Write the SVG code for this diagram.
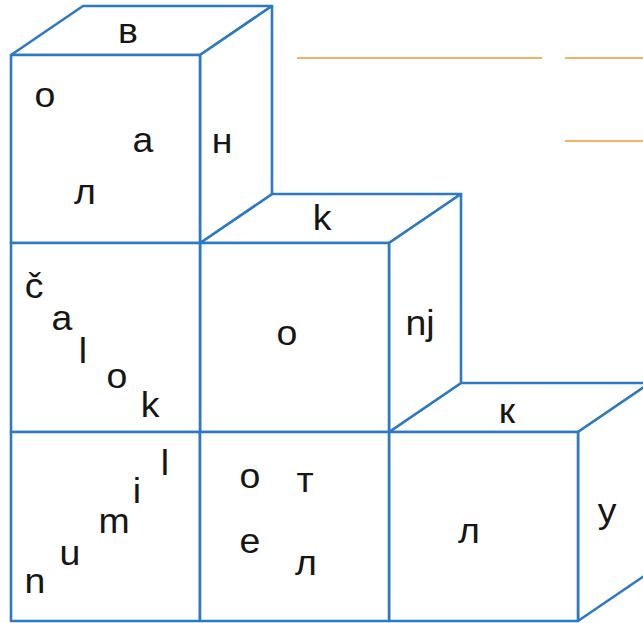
<svg xmlns="http://www.w3.org/2000/svg" width="643" height="623" viewBox="0 0 643 623">
<style>
.f{fill:#fff;stroke:#2d79c4;stroke-width:2.6;stroke-linejoin:round}
.t{font-family:"Liberation Sans",Arial,sans-serif;font-size:35px;fill:#161616;text-anchor:middle}
.o{stroke:#f2b163;stroke-width:2}
</style>
<rect width="643" height="623" fill="#fff"/>
<g id="lines">
<line class="o" x1="297" y1="58" x2="542" y2="58"/>
<line class="o" x1="565" y1="58" x2="643" y2="58"/>
<line class="o" x1="565" y1="141" x2="643" y2="141"/>
</g>
<g id="cube-c2r2">
<polygon class="f" points="389,432 461,383 650,383 578,432"/>
<polygon class="f" points="578,432 650,383 650,572 578,621"/>
<rect class="f" x="389" y="432" width="189" height="189"/>
<text class="t" transform="matrix(1.07,0,0,1,507,423)">к</text>
<text class="t" transform="matrix(1.07,0,0,1,469,543)">л</text>
<text class="t" transform="matrix(1.07,0,0,1,607,523)">у</text>
</g>
<g id="cube-c1r1">
<polygon class="f" points="200,243 272,194 461,194 389,243"/>
<polygon class="f" points="389,243 461,194 461,383 389,432"/>
<rect class="f" x="200" y="243" width="189" height="189"/>
<text class="t" transform="matrix(1.07,0,0,1,322,230)">k</text>
<text class="t" transform="matrix(1.07,0,0,1,287,345)">o</text>
<text class="t" transform="matrix(1.07,0,0,1,420,335)">nj</text>
</g>
<g id="cube-c0r0">
<polygon class="f" points="11,55 83,6 272,6 200,55"/>
<polygon class="f" points="200,55 272,6 272,194 200,243"/>
<rect class="f" x="11" y="55" width="189" height="188"/>
<text class="t" transform="matrix(1.07,0,0,1,128,43)">в</text>
<text class="t" transform="matrix(1.07,0,0,1,45,107)">о</text>
<text class="t" transform="matrix(1.07,0,0,1,143,152)">а</text>
<text class="t" transform="matrix(1.07,0,0,1,85,204)">л</text>
<text class="t" transform="matrix(1.07,0,0,1,222,153)">н</text>
</g>
<g id="cube-c0r1">
<rect class="f" x="11" y="243" width="189" height="189"/>
<text class="t" transform="matrix(1.07,0,0,1,34,298)">č</text>
<text class="t" transform="matrix(1.07,0,0,1,62,330)">a</text>
<text class="t" transform="matrix(1.07,0,0,1,83,363)">l</text>
<text class="t" transform="matrix(1.07,0,0,1,117,388)">o</text>
<text class="t" transform="matrix(1.07,0,0,1,150,417)">k</text>
</g>
<g id="cube-c0r2">
<rect class="f" x="11" y="432" width="189" height="189"/>
<text class="t" transform="matrix(1.07,0,0,1,35,593)">n</text>
<text class="t" transform="matrix(1.07,0,0,1,70,565)">u</text>
<text class="t" transform="matrix(1.07,0,0,1,114,533)">m</text>
<text class="t" transform="matrix(1.07,0,0,1,137,503)">i</text>
<text class="t" transform="matrix(1.07,0,0,1,165,475)">l</text>
</g>
<g id="cube-c1r2">
<rect class="f" x="200" y="432" width="189" height="189"/>
<text class="t" transform="matrix(1.07,0,0,1,250,488)">о</text>
<text class="t" transform="matrix(1.07,0,0,1,305,492)">т</text>
<text class="t" transform="matrix(1.07,0,0,1,250,553)">е</text>
<text class="t" transform="matrix(1.07,0,0,1,306,575)">л</text>
</g>
</svg>
